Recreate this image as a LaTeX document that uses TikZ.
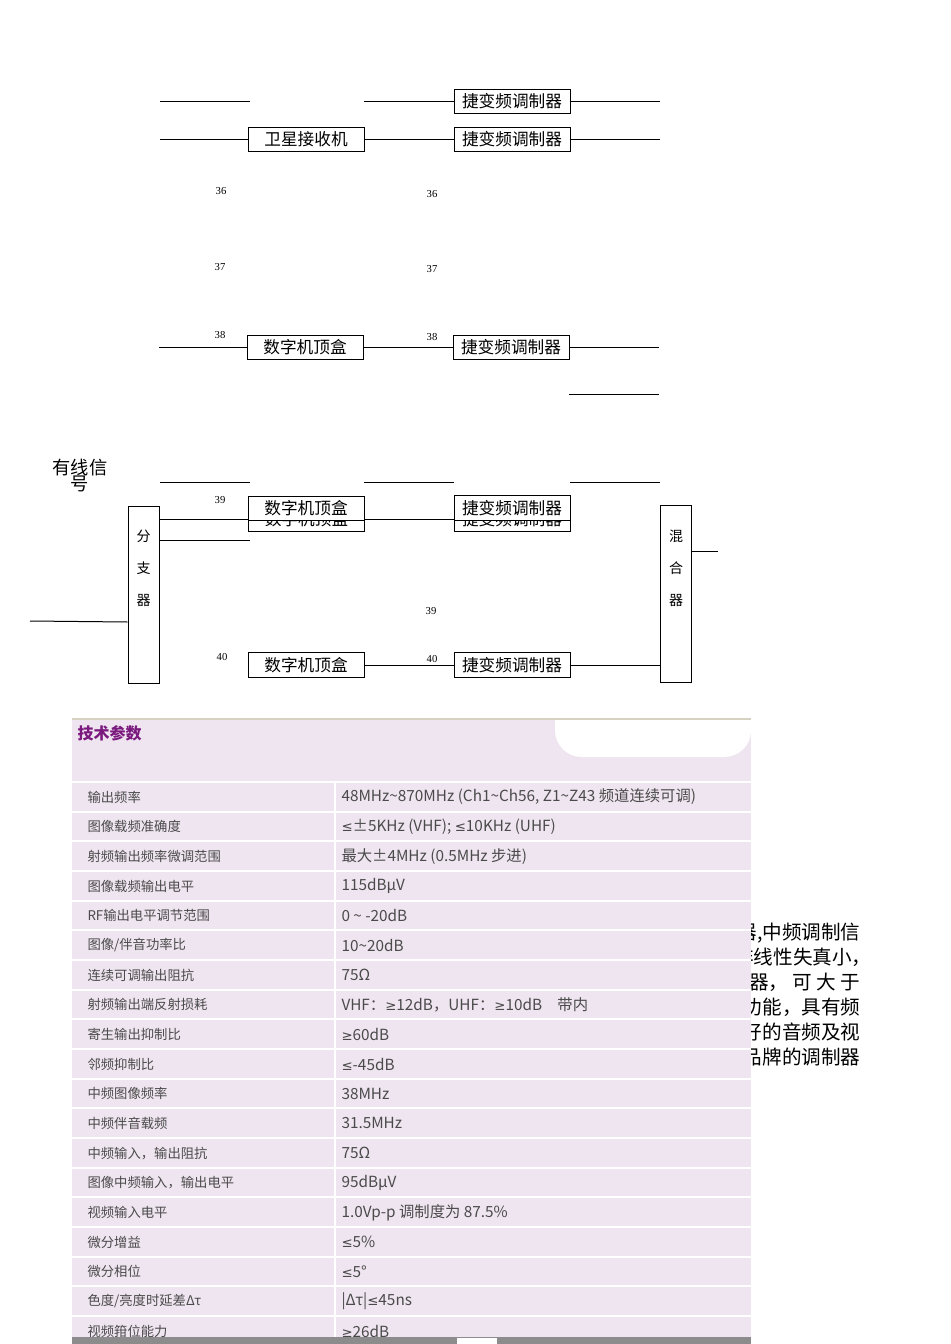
\documentclass[tikz,border=0pt]{standalone}
\usepackage{fontspec}
\setmainfont{Liberation Serif}
\newfontfamily\cjk{Noto Sans CJK SC}
\newfontfamily\symfont{DejaVu Sans}
\usetikzlibrary{positioning}
\definecolor{tblbg}{HTML}{EFE5F0}
\definecolor{tbltext}{HTML}{4A4A4A}
\definecolor{tbltitle}{HTML}{7B1A7E}
\definecolor{tbledge}{HTML}{D6D2C2}
\definecolor{tblbar}{HTML}{8C8C8C}
\newcommand\tl{\textasciitilde}
\newcommand\symle{{\symfont\fontsize{10}{12}\selectfont ≤}}
\newcommand\symge{{\symfont\fontsize{10}{12}\selectfont ≥}}
\tikzset{
  every picture/.style={line width=0.75pt},
  blk/.style={draw, fill=white, inner sep=0pt, minimum width=87pt, minimum height=18.5pt, font=\cjk\fontsize{12.5}{14}\selectfont},
  vblk/.style={draw, inner sep=0pt, minimum width=23.25pt, minimum height=132.75pt},
  vtext/.style={align=center, inner sep=0pt, font=\cjk\fontsize{10.5}{24}\selectfont},
  num/.style={inner sep=0pt, font=\fontsize{8}{9}\selectfont},
  key/.style={anchor=west, text=tbltext, inner sep=0pt, font=\cjk\fontsize{10}{12}\selectfont},
  val/.style={anchor=west, text=tbltext, inner sep=0pt, font=\cjk\fontsize{11.5}{13}\selectfont},
  note/.style={anchor=east, inner sep=0pt, font=\cjk\fontsize{14.7}{16}\selectfont},
}
\begin{document}
\begin{tikzpicture}[x=0.75pt, y=-0.75pt]
  \useasboundingbox (0,0) rectangle (950,1344);
  % upper part of the head-end chain
  \node[blk] (modA) at (512,101.5) {捷变频调制器};
  \node[blk] (sat) at (306,139.5) {卫星接收机};
  \node[blk] (modB) at (512,139.5) {捷变频调制器};
  \node[blk] (stbC) at (305,347.5) {数字机顶盒};
  \node[blk] (modC) at (511,347.5) {捷变频调制器};
  \coordinate (a1) at (160,101.5); \coordinate (a2) at (250,101.5);
  \coordinate (a3) at (364,101.5); \coordinate (a4) at (660,101.5);
  \coordinate (b1) at (160,139.5); \coordinate (b4) at (660,139.5);
  \coordinate (c1) at (159,347.5); \coordinate (c4) at (659,347.5);
  \coordinate (d1) at (569,394); \coordinate (d2) at (659,394);
  \draw (a1) -- (a2);
  \draw (a3) -- (modA.west);
  \draw (modA.east) -- (a4);
  \draw (b1) -- (sat.west);
  \draw (sat.east) -- (modB.west);
  \draw (modB.east) -- (b4);
  \draw (c1) -- (stbC.west);
  \draw (stbC.east) -- (modC.west);
  \draw (modC.east) -- (c4);
  \draw (d1) -- (d2);
  \foreach \n/\x/\y in {36/221/191, 36/432/194, 37/220/267, 37/432/269,
      38/220/335, 38/432/337, 39/220/500, 39/431/611, 40/222/657, 40/432/659}
    \node[num] (n\x\y) at (\x,\y) {\n};
  % cable signal part
  \node[inner sep=0pt, font=\cjk\fontsize{13.7}{15}\selectfont] (cableA) at (80,468) {有线信};
  \node[inner sep=0pt, font=\cjk\fontsize{13.7}{15}\selectfont] (cableB) at (80,484) {号};
  \foreach \xa/\xb [count=\i] in {160/250, 364/454, 570/660} {
    \coordinate (e\i) at (\xa,482); \coordinate (f\i) at (\xb,482);
    \draw (e\i) -- (f\i);
  }
  \node[vblk] (split) at (143.5,594.5) {};
  \node[vtext] (splitTxt) at (143.5,568) {分\\支\\器};
  \node[vblk] (mix) at (675.5,594) {};
  \node[vtext] (mixTxt) at (676,568) {混\\合\\器};
  \node[blk] (stbDb) at (306.5,519.5) {数字机顶盒};
  \node[blk] (stbD) at (306,508.5) {数字机顶盒};
  \node[blk] (modDb) at (512,519.5) {捷变频调制器};
  \node[blk] (modD) at (512,508) {捷变频调制器};
  \node[blk] (stbE) at (306,665) {数字机顶盒};
  \node[blk] (modE) at (512,665) {捷变频调制器};
  \coordinate (in) at (30,621);
  \coordinate (g2) at (250,540);
  \coordinate (out) at (718,551);
  \draw (in) -- (split.west |- 0,622);
  \draw (split.east |- stbDb.west) -- (stbDb.west);
  \draw (split.east |- g2) -- (g2);
  \draw (stbDb.east) -- (modDb.west);
  \draw (stbE.east) -- (modE.west);
  \draw (modE.east) -- (mix.west |- modE.east);
  \draw (mix.east |- out) -- (out);
  % text behind the table
  \node[note] (t1) at (861,933) {器,中频调制信};
  \node[note] (t2) at (872,957) {非线性失真小，};
  \node[note] (t3) at (861,982) {器， 可 大 于};
  \node[note] (t4) at (861,1007) {功能，具有频};
  \node[note] (t5) at (861,1032) {好的音频及视};
  \node[note] (t6) at (861,1057) {品牌的调制器};
  % parameter table
  \fill[tblbg] (72,720) rectangle (751,1344);
  \fill[white] (751,720) -- (555,720) {[rounded corners=20pt] -- (555,757) -- (751,757)} -- cycle;
  \draw[tbledge, line width=1.5pt] (72,719) -- (751,719);
  \node[anchor=west, inner sep=0pt, text=tbltitle, font=\cjk\bfseries\fontsize{12}{14}\selectfont] (title) at (77,733) {技术参数};
  \foreach \j in {0,...,18}
    \draw[white, line width=1.5pt] (72,{782+29.67*\j}) -- (751,{782+29.67*\j});
  \draw[white, line width=1.5pt] (335,782) -- (335,1337);
  \foreach \k/\v [count=\i from 0] in {
      {输出频率}/{48MHz\tl870MHz (Ch1\tl Ch56, Z1\tl Z43 频道连续可调)},
      {图像载频准确度}/{\symle±5KHz (VHF); \symle10KHz (UHF)},
      {射频输出频率微调范围}/{最大±4MHz (0.5MHz 步进)},
      {图像载频输出电平}/{115dBμV},
      {RF输出电平调节范围}/{0 \tl\ -20dB},
      {图像/伴音功率比}/{10\tl20dB},
      {连续可调输出阻抗}/{75Ω},
      {射频输出端反射损耗}/{VHF：\symge12dB，UHF：\symge10dB\quad 带内},
      {寄生输出抑制比}/{\symge60dB},
      {邻频抑制比}/{\symle-45dB},
      {中频图像频率}/{38MHz},
      {中频伴音载频}/{31.5MHz},
      {中频输入，输出阻抗}/{75Ω},
      {图像中频输入，输出电平}/{95dBμV},
      {视频输入电平}/{1.0Vp-p 调制度为 87.5\%},
      {微分增益}/{\symle5\%},
      {微分相位}/{\symle5°},
      {色度/亮度时延差Δτ}/{|Δτ|\symle45ns},
      {视频箝位能力}/{\symge26dB}} {
    \pgfmathsetmacro\ry{797+29.67*\i}
    \node[key] (k\i) at (87,\ry) {\k};
    \node[val] (v\i) at (341,\ry) {\v};
  }
  \fill[tblbar] (72,1337) rectangle (751,1344);
  \fill[white] (457,1338) rectangle (497,1344);
\end{tikzpicture}
\end{document}
